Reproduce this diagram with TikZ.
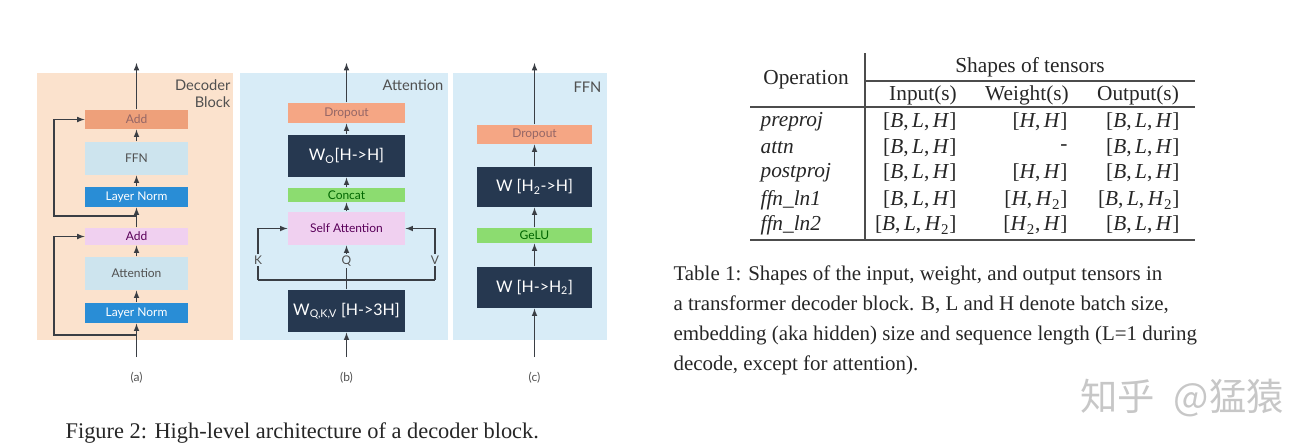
\documentclass[tikz,border=0pt]{standalone}
\usepackage{fontspec}
\setmainfont{Liberation Serif}
\newfontfamily\diag{Lato}
\newfontfamily\cjk{Noto Sans CJK SC}

\definecolor{peach}{RGB}{251,226,205}
\definecolor{skybg}{RGB}{216,236,247}
\definecolor{addor}{RGB}{238,160,122}
\definecolor{paleblue}{RGB}{205,228,238}
\definecolor{lnblue}{RGB}{41,141,214}
\definecolor{pinkbox}{RGB}{240,208,240}
\definecolor{navy}{RGB}{38,56,80}
\definecolor{gelugreen}{RGB}{140,220,112}
\definecolor{dropor}{RGB}{245,166,132}
\definecolor{wire}{RGB}{58,62,68}
\definecolor{ink}{RGB}{80,80,80}

\tikzset{
  blk/.style={inner sep=0pt, font=\diag\fontsize{9}{10}\selectfont, text=ink},
  wbox/.style={blk, fill=navy, text=white, font=\diag\fontsize{12}{13}\selectfont},
  cell/.style={inner sep=0pt, font=\fontsize{16}{18}\selectfont, text=black!85},
  rule/.style={draw=black!70, line width=0.8pt},
}

\begin{document}
\begin{tikzpicture}[x=0.75pt, y=-0.75pt, line width=0.9pt, draw=wire]
	\useasboundingbox (0,0) rectangle (1300,443);
	
	% panel backgrounds
	\fill[peach] (37,73) rectangle (233,340);
	\fill[skybg] (240,73) rectangle (448,340);
	\fill[skybg] (453,73) rectangle (607,340);
	
	% (a) decoder block
	\node[blk, fill=addor, minimum width=77pt, minimum height=14.25pt, text=black!70!red!60] (add2) at (136.5,119.5) {Add};
	\node[blk, fill=paleblue, minimum width=77pt, minimum height=24.75pt] (ffn) at (136.5,158.5) {FFN};
	\node[blk, fill=lnblue, minimum width=77pt, minimum height=15pt, text=white] (ln2) at (136.5,197) {Layer Norm};
	\node[blk, fill=pinkbox, minimum width=77pt, minimum height=12.75pt, text=violet!70!black] (add1) at (136.5,236.5) {Add};
	\node[blk, fill=paleblue, minimum width=77pt, minimum height=24.75pt] (att) at (136.5,273.5) {Attention};
	\node[blk, fill=lnblue, minimum width=77pt, minimum height=15pt, text=white] (ln1) at (136.5,313) {Layer Norm};
	\node[anchor=north east, align=right, inner sep=0pt, font=\diag\fontsize{11}{13}\selectfont, text=ink] (ta) at (231,79) {Decoder\\Block};
	\node[font=\diag\fontsize{9}{10}\selectfont, text=ink] (la) at (136.5,378) {(a)};
	
	\coordinate (ina) at (136.5,357);
	\coordinate (outa) at (136.5,63);
	\coordinate (r1) at (136.5,335);
	\coordinate (r2) at (136.5,216);
	
	\draw[-latex] (ina) -- (ln1);
	\draw[-latex] (ln1) -- (att);
	\draw[-latex] (att) -- (add1);
	\draw[-latex] (add1) -- (ln2);
	\draw[-latex] (ln2) -- (ffn);
	\draw[-latex] (ffn) -- (add2);
	\draw[-latex] (add2) -- (outa);
	\draw[-latex] (r1) -- (54,335) |- (add1.west);
	\draw[-latex] (r2) -- (54,216) |- (add2.west);
	
	% (b) attention
	\node[blk, fill=dropor, minimum width=87.75pt, minimum height=15pt, text=black!70!red!60] (dpb) at (346.5,113) {Dropout};
	\node[wbox, minimum width=87.75pt, minimum height=31.5pt] (wo) at (346.5,156) {W\textsubscript{O}[H->H]};
	\node[blk, fill=gelugreen, minimum width=87.75pt, minimum height=10.5pt, text=green!40!black] (cat) at (346.5,195) {Concat};
	\node[blk, fill=pinkbox, minimum width=87.75pt, minimum height=24.75pt, text=violet!70!black] (sa) at (346.5,228.5) {Self Attention};
	\node[wbox, minimum width=87.75pt, minimum height=31.5pt] (wqkv) at (346.5,311) {W\textsubscript{Q,K,V} [H->3H]};
	\node[anchor=north east, inner sep=0pt, font=\diag\fontsize{11}{13}\selectfont, text=ink] (tb) at (444,79) {Attention};
	\node[font=\diag\fontsize{9}{10}\selectfont, text=ink] (lb) at (346.5,378) {(b)};
	
	\coordinate (inb) at (346.5,357);
	\coordinate (outb) at (346.5,63);
	\coordinate (kv) at (346.5,280);
	\coordinate (kl) at (258,280);
	\coordinate (vr) at (435,280);
	
	\draw[-latex] (inb) -- (wqkv);
	\draw (wqkv) -- (kv);
	\draw (kl) -- (vr);
	\draw[-latex] (kl) |- (sa.west);
	\draw[-latex] (vr) |- (sa.east);
	\draw[-latex] (kv) -- (sa);
	\node[fill=skybg, inner sep=1pt, font=\diag\fontsize{9}{10}\selectfont, text=ink] (k) at (258,260) {K};
	\node[fill=skybg, inner sep=1pt, font=\diag\fontsize{9}{10}\selectfont, text=ink] (q) at (346.5,261) {Q};
	\node[fill=skybg, inner sep=1pt, font=\diag\fontsize{9}{10}\selectfont, text=ink] (v) at (435,260) {V};
	\draw[-latex] (sa) -- (cat);
	\draw[-latex] (cat) -- (wo);
	\draw[-latex] (wo) -- (dpb);
	\draw[-latex] (dpb) -- (outb);
	
	% (c) ffn
	\node[blk, fill=dropor, minimum width=86.25pt, minimum height=14.25pt, text=black!70!red!60] (dpc) at (534.5,134.5) {Dropout};
	\node[wbox, minimum width=86.25pt, minimum height=30pt] (wdown) at (534.5,187) {W [H\textsubscript{2}->H]};
	\node[blk, fill=gelugreen, minimum width=86.25pt, minimum height=11.25pt, text=green!40!black] (gelu) at (534.5,235.5) {GeLU};
	\node[wbox, minimum width=86.25pt, minimum height=30.75pt] (wup) at (534.5,287.5) {W [H->H\textsubscript{2}]};
	\node[anchor=north east, inner sep=0pt, font=\diag\fontsize{11}{13}\selectfont, text=ink] (tc) at (602,81) {FFN};
	\node[font=\diag\fontsize{9}{10}\selectfont, text=ink] (lc) at (534.5,378) {(c)};
	
	\coordinate (inc) at (534.5,357);
	\coordinate (outc) at (534.5,63);
	\draw[-latex] (inc) -- (wup);
	\draw[-latex] (wup) -- (gelu);
	\draw[-latex] (gelu) -- (wdown);
	\draw[-latex] (wdown) -- (dpc);
	\draw[-latex] (dpc) -- (outc);
	
	% figure caption
	\node[anchor=base west, inner sep=0pt, font=\fontsize{16.8}{18}\selectfont, text=black!85] (fig) at (65,438) {Figure 2: High-level architecture of a decoder block.};
	
	% table of tensor shapes
	\draw[rule] (865,53) -- (865,240);
	\draw[rule] (865,81) -- (1195,81);
	\draw[rule] (750,107) -- (1195,107);
	\draw[rule] (750,240) -- (1195,240);
	
	\node[cell] (hop) at (806,80) {Operation};
	\node[cell] (hsh) at (1030,67) {Shapes of tensors};
	\node[cell] (hin) at (923,95) {Input(s)};
	\node[cell] (hwt) at (1027,95) {Weight(s)};
	\node[cell] (hout) at (1138,95) {Output(s)};
	
	\node[cell, anchor=west] (op1) at (760,122) {\textit{preproj}};
	\node[cell, anchor=west] (op2) at (760,148) {\textit{attn}};
	\node[cell, anchor=west] (op3) at (760,173) {\textit{postproj}};
	\node[cell, anchor=west] (op4) at (760,200) {\textit{ffn\_ln1}};
	\node[cell, anchor=west] (op5) at (760,225) {\textit{ffn\_ln2}};
	
	\node[cell, anchor=east] (in1) at (957,122) {[\textit{B},\,\textit{L},\,\textit{H}]};
	\node[cell, anchor=east] (in2) at (957,148) {[\textit{B},\,\textit{L},\,\textit{H}]};
	\node[cell, anchor=east] (in3) at (957,173) {[\textit{B},\,\textit{L},\,\textit{H}]};
	\node[cell, anchor=east] (in4) at (957,200) {[\textit{B},\,\textit{L},\,\textit{H}]};
	\node[cell, anchor=east] (in5) at (957,225) {[\textit{B},\,\textit{L},\,\textit{H}\textsubscript{2}]};
	
	\node[cell, anchor=east] (wt1) at (1068,122) {[\textit{H},\,\textit{H}]};
	\node[cell, anchor=east] (wt2) at (1068,148) {-};
	\node[cell, anchor=east] (wt3) at (1068,173) {[\textit{H},\,\textit{H}]};
	\node[cell, anchor=east] (wt4) at (1068,200) {[\textit{H},\,\textit{H}\textsubscript{2}]};
	\node[cell, anchor=east] (wt5) at (1068,225) {[\textit{H}\textsubscript{2},\,\textit{H}]};
	
	\node[cell, anchor=east] (out1) at (1180,122) {[\textit{B},\,\textit{L},\,\textit{H}]};
	\node[cell, anchor=east] (out2) at (1180,148) {[\textit{B},\,\textit{L},\,\textit{H}]};
	\node[cell, anchor=east] (out3) at (1180,173) {[\textit{B},\,\textit{L},\,\textit{H}]};
	\node[cell, anchor=east] (out4) at (1180,200) {[\textit{B},\,\textit{L},\,\textit{H}\textsubscript{2}]};
	\node[cell, anchor=east] (out5) at (1180,225) {[\textit{B},\,\textit{L},\,\textit{H}]};
	
	% table caption
	\node[anchor=north west, align=left, inner sep=0pt, font=\fontsize{15.7}{22.5}\selectfont, text=black!85] (tcap) at (673,265) {Table 1: Shapes of the input, weight, and output tensors in\\a transformer decoder block. B, L and H denote batch size,\\embedding (aka hidden) size and sequence length (L=1 during\\decode, except for attention).};
	
	% watermark
	\node[font=\cjk\fontsize{28}{30}\selectfont, text=black!22] (wm) at (1182,398) {知乎\hspace{0.5em}@猛猿};
\end{tikzpicture}
\end{document}
